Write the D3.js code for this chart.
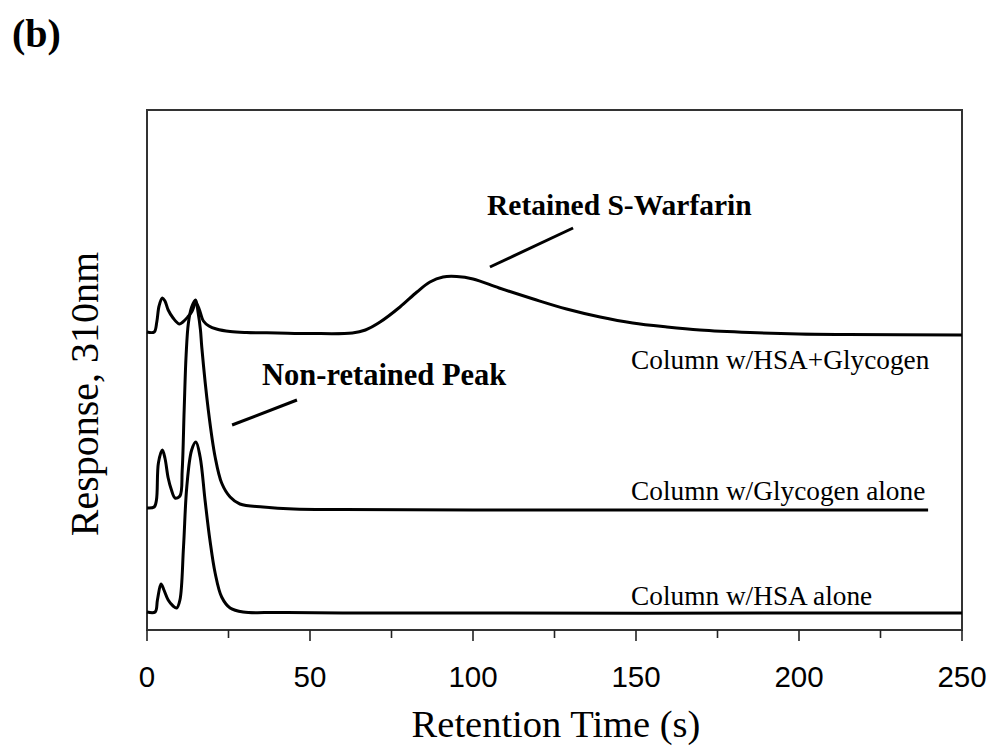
<!DOCTYPE html>
<html>
<head>
<meta charset="utf-8">
<script src="https://cdn.jsdelivr.net/npm/d3@7"></script>
<style>
  html, body { margin: 0; padding: 0; background: #fff; }
  svg { display: block; }
</style>
</head>
<body>
<svg id="chart" width="994" height="752"></svg>
<script>
// ---- Data (retention time in s, response in arbitrary stacked units) ----
const panelLabel = "(b)";
const xTicksMajor = [0, 50, 100, 150, 200, 250];
const xTicksMinor = [25, 75, 125, 175, 225];
const xLabel = "Retention Time (s)";
const yLabel = "Response, 310nm";

const seriesNames = ["Column w/HSA+Glycogen", "Column w/Glycogen alone", "Column w/HSA alone"];

const tHsaGly = [0, 2.2, 3.0, 3.7, 4.7, 5.5, 6.5, 8, 9.9, 11, 12.5, 13.7, 15, 16, 17.3, 19, 21.3, 25.5, 30.5, 40, 50, 63, 67, 71.5, 77.6, 82.8, 86.8, 90.8, 95, 100, 108, 118.5, 128.7, 139, 149, 159.5, 169.6, 185, 200, 215, 250];
const rHsaGly = [298, 298, 308, 324, 332, 329, 320, 312, 306, 308, 313, 318, 327, 321, 309, 304, 301, 298.5, 297.5, 297, 296.5, 297, 300, 308, 323, 338, 348, 353, 353.5, 351, 342, 331, 321, 313, 307, 303, 300, 297.5, 296, 295.5, 295];

const tGly = [0, 2.2, 2.9, 3.5, 4.7, 5.5, 6.5, 7.5, 8.6, 10.1, 10.8, 11.4, 12.0, 12.7, 13.7, 14.9, 15.7, 16.4, 16.8, 18.8, 20.9, 22.9, 25.5, 28.5, 35.6, 45, 60, 100, 239.6];
const rGly = [122, 123, 130, 167, 180, 172, 152, 140, 132, 134, 160, 220, 275, 307, 323, 330, 317, 300, 283, 220, 173, 147, 133, 126, 123, 121, 120.5, 120, 120];

const tHsa = [0, 2.5, 3.2, 4.3, 5.2, 6.5, 8, 9.1, 10.1, 11.2, 12.2, 13.7, 15.0, 16.3, 17.8, 19.3, 20.9, 22.9, 25.5, 29.5, 40, 60, 250];
const rHsa = [18, 18, 30, 46, 40, 30, 24, 22, 30, 83, 143, 180, 188, 173, 130, 90, 57, 33, 22, 18, 17.5, 17, 17];

const annotations = ["Retained S-Warfarin", "Non-retained Peak"];

// ---- Layout ----
const svg = d3.select("#chart");
const mLeft = 147, mRight = 962, mTop = 110, mBottom = 630;

const x = d3.scaleLinear().domain([0, 250]).range([mLeft, mRight]);
const y = d3.scaleLinear().domain([0, 520]).range([mBottom, mTop]);

// frame
svg.append("rect")
  .attr("x", mLeft).attr("y", mTop)
  .attr("width", mRight - mLeft).attr("height", mBottom - mTop)
  .attr("fill", "none").attr("stroke", "#333").attr("stroke-width", 2);

// x axis ticks (outward)
const gx = svg.append("g").attr("transform", `translate(0,${mBottom})`);
gx.selectAll("line.major").data(xTicksMajor).enter().append("line")
  .attr("class", "major")
  .attr("x1", d => x(d)).attr("x2", d => x(d))
  .attr("y1", 0).attr("y2", 11)
  .attr("stroke", "#222").attr("stroke-width", 1.6);
gx.selectAll("line.minor").data(xTicksMinor).enter().append("line")
  .attr("class", "minor")
  .attr("x1", d => x(d)).attr("x2", d => x(d))
  .attr("y1", 0).attr("y2", 8)
  .attr("stroke", "#222").attr("stroke-width", 1.6);
gx.selectAll("text").data(xTicksMajor).enter().append("text")
  .attr("x", d => x(d)).attr("y", 57)
  .attr("text-anchor", "middle")
  .attr("font-family", "'Liberation Sans', Arial, sans-serif")
  .attr("font-size", 29.5)
  .attr("fill", "#000")
  .text(d => d);

// axis labels
svg.append("text")
  .attr("x", 556).attr("y", 737)
  .attr("text-anchor", "middle")
  .attr("font-family", "'Liberation Serif', 'Times New Roman', serif")
  .attr("font-size", 38.5)
  .attr("fill", "#000")
  .text(xLabel);

svg.append("text")
  .attr("transform", "translate(98,394) rotate(-90)")
  .attr("text-anchor", "middle")
  .attr("font-family", "'Liberation Serif', 'Times New Roman', serif")
  .attr("font-size", 40)
  .attr("fill", "#000")
  .text(yLabel);

// panel label
svg.append("text")
  .attr("x", 12).attr("y", 47)
  .attr("font-family", "'Liberation Serif', 'Times New Roman', serif")
  .attr("font-weight", "bold")
  .attr("font-size", 40)
  .attr("fill", "#000")
  .text(panelLabel);

// traces
const line = d3.line()
  .x(d => x(d[0]))
  .y(d => y(d[1]))
  .curve(d3.curveCatmullRom.alpha(0.5));

const traces = [
  { t: tHsaGly, r: rHsaGly },
  { t: tGly, r: rGly },
  { t: tHsa, r: rHsa }
];
traces.forEach(s => {
  svg.append("path")
    .datum(d3.zip(s.t, s.r))
    .attr("d", line)
    .attr("fill", "none")
    .attr("stroke", "#000")
    .attr("stroke-width", 3)
    .attr("stroke-linejoin", "round");
});

// series labels
const labelTime = 148.5;
const labelBase = [rHsaGly[rHsaGly.length - 1] - 34, rGly[rGly.length - 1] + 10, rHsa[rHsa.length - 1] + 8];
seriesNames.forEach((name, i) => {
  svg.append("text")
    .attr("x", x(labelTime))
    .attr("y", y(labelBase[i]))
    .attr("font-family", "'Liberation Serif', 'Times New Roman', serif")
    .attr("font-size", 27.3)
    .attr("fill", "#000")
    .text(name);
});

// annotations
const annoFont = "'Liberation Serif', 'Times New Roman', serif";
svg.append("text")
  .attr("x", x(104.3)).attr("y", y(415))
  .attr("font-family", annoFont).attr("font-weight", "bold")
  .attr("font-size", 29.5).attr("fill", "#000")
  .text(annotations[0]);
svg.append("line")
  .attr("x1", x(105.2)).attr("y1", y(363))
  .attr("x2", x(130.7)).attr("y2", y(402))
  .attr("stroke", "#000").attr("stroke-width", 3);

svg.append("text")
  .attr("x", x(35.3)).attr("y", y(245))
  .attr("font-family", annoFont).attr("font-weight", "bold")
  .attr("font-size", 30.5).attr("fill", "#000")
  .text(annotations[1]);
svg.append("line")
  .attr("x1", x(26.1)).attr("y1", y(205))
  .attr("x2", x(46)).attr("y2", y(230))
  .attr("stroke", "#000").attr("stroke-width", 3);
</script>
</body>
</html>
